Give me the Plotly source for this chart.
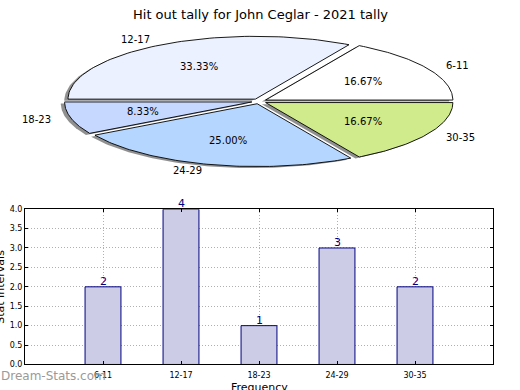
import numpy as np
import plotly.graph_objects as go

# ---------------- data ----------------
categories = ["6-11", "12-17", "18-23", "24-29", "30-35"]
counts = [2, 4, 1, 3, 2]
pie_colors = ["#ffffff", "#ebf1ff", "#c6d8ff", "#b5d6ff", "#d0eb8c"]
title_text = "Hit out tally for John Ceglar - 2021 tally"
y_ticks = [0.0, 0.5, 1.0, 1.5, 2.0, 2.5, 3.0, 3.5, 4.0]

W, H = 520, 390
FONT = "DejaVu Sans"


def px_x(p):
    return p / W


def px_y(p):  # p measured from top
    return 1 - p / H


# ---------------- pie geometry (squashed, exploded, shadowed) ----------------
cx_px, cy_px = 259.1, 99.6
rx_px, ry_px = 187.3, 64.3
explode = 0.04
shadow_off = (-0.02, -0.025)

total = sum(counts)
fracs = [c / total for c in counts]
starts = np.cumsum([0] + fracs[:-1]) * 360.0

fig = go.Figure()

wedges = []
for f, a0 in zip(fracs, starts):
    a1 = a0 + f * 360.0
    mid = np.deg2rad((a0 + a1) / 2)
    ox, oy = explode * np.cos(mid), explode * np.sin(mid)
    th = np.deg2rad(np.linspace(a0, a1, 80))
    xs = np.concatenate([[0], np.cos(th), [0]]) + ox
    ys = np.concatenate([[0], np.sin(th), [0]]) + oy
    wedges.append((xs, ys, mid, ox, oy, f))

# shadows first
for xs, ys, *_ in wedges:
    fig.add_trace(go.Scatter(
        x=xs + shadow_off[0], y=ys + shadow_off[1], mode="lines", fill="toself",
        fillcolor="rgba(70,70,70,0.6)", line=dict(color="rgba(0,0,0,0)", width=0),
        xaxis="x3", yaxis="y3", hoverinfo="skip", showlegend=False))

for (xs, ys, mid, ox, oy, f), col in zip(wedges, pie_colors):
    fig.add_trace(go.Scatter(
        x=xs, y=ys, mode="lines", fill="toself", fillcolor=col,
        line=dict(color="black", width=0.9),
        xaxis="x3", yaxis="y3", hoverinfo="skip", showlegend=False))

annotations = []
for (xs, ys, mid, ox, oy, f), cat in zip(wedges, categories):
    lx = 1.1 * np.cos(mid) + ox
    ly = 1.1 * np.sin(mid) + oy
    annotations.append(dict(
        x=lx, y=ly, xref="x3", yref="y3", text=cat, showarrow=False,
        xanchor="left" if lx > 0 else "right", yanchor="middle",
        font=dict(family=FONT, size=10, color="black")))
    px_ = 0.6 * np.cos(mid) + ox
    py_ = 0.6 * np.sin(mid) + oy
    annotations.append(dict(
        x=px_, y=py_, xref="x3", yref="y3", text=f"{f*100:.2f}%", showarrow=False,
        xanchor="center", yanchor="middle",
        font=dict(family=FONT, size=10, color="black")))

# ---------------- bar chart ----------------
xi = list(range(len(categories)))
fig.add_trace(go.Bar(
    x=xi, y=counts, width=0.46,
    marker=dict(color="#ccccE6", line=dict(color="#000080", width=1)),
    hoverinfo="skip", showlegend=False))
for i, c in zip(xi, counts):
    annotations.append(dict(
        x=i, y=c, xref="x", yref="y", text=str(c), showarrow=False,
        xanchor="center", yanchor="bottom", yshift=-3,
        font=dict(family=FONT, size=11, color="#000080")))

annotations += [
    dict(x=0.5, y=px_y(11), xref="paper", yref="paper", text=title_text,
         showarrow=False, xanchor="center", yanchor="middle",
         font=dict(family=FONT, size=13, color="black")),
    dict(x=px_x(0.5), y=px_y(290), xref="paper", yref="paper", text="Stat Intervals",
         showarrow=False, xanchor="center", yanchor="middle", textangle=-90,
         font=dict(family=FONT, size=11, color="black")),
    dict(x=px_x(259), y=px_y(384), xref="paper", yref="paper", text="Frequency",
         showarrow=False, xanchor="center", yanchor="top",
         font=dict(family=FONT, size=11, color="black")),
    dict(x=px_x(-1), y=px_y(381), xref="paper", yref="paper", text="Dream-Stats.com",
         showarrow=False, xanchor="left", yanchor="middle",
         font=dict(family=FONT, size=12, color="#9a9a9a")),
]

grid_common = dict(showgrid=True, gridcolor="#b0b0b0", griddash="1px,2px", gridwidth=1,
                   showline=True, linecolor="black", linewidth=1, mirror="ticks",
                   ticks="inside", ticklen=3, tickcolor="black", zeroline=False,
                   fixedrange=True, tickfont=dict(family=FONT, size=8, color="black"))

fig.update_layout(
    width=W, height=H,
    margin=dict(l=0, r=0, t=0, b=0),
    paper_bgcolor="white", plot_bgcolor="rgba(0,0,0,0)",
    showlegend=False,
    annotations=annotations,
    xaxis=dict(domain=[px_x(25), px_x(493)], range=[-1, 5],
               tickvals=xi, ticktext=categories, ticklabelstandoff=3, **grid_common),
    yaxis=dict(domain=[1 - 369 / H, 1 - 210 / H], range=[0, 4],
               tickvals=y_ticks, ticktext=[f"{v:.1f}" for v in y_ticks], **grid_common),
    xaxis3=dict(domain=[0, 1], anchor="y3",
                range=[-cx_px / rx_px, (W - cx_px) / rx_px],
                visible=False, fixedrange=True),
    yaxis3=dict(domain=[0, 1], anchor="x3",
                range=[-(H - cy_px) / ry_px, cy_px / ry_px],
                visible=False, fixedrange=True),
)

fig.write_html("out.html", config={"displayModeBar": False},
               post_script="document.body.style.margin='0';document.body.style.overflow='hidden';")
